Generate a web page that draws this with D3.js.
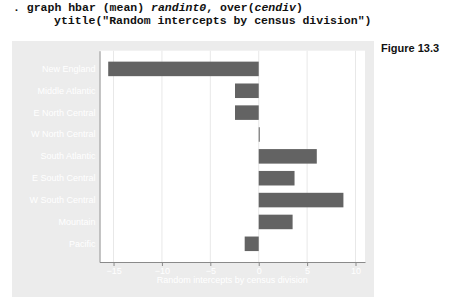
<!DOCTYPE html>
<html lang="en">
	<head>
		<meta charset="utf-8" />
		<title>Random intercepts by census division</title>
		<script type="text/javascript" src="https://cdn.jsdelivr.net/npm/d3@7"></script>
		<style type="text/css">
			body { margin: 0; background: #fff; }
			text { font-family: "Liberation Sans", Arial, sans-serif; }
			.cmd { font-family: "Liberation Mono", "Courier New", monospace; font-weight: bold; font-size: 11.5px; fill: #111; }
		</style>
	</head>
	<body>
		<script type="text/javascript">
			// data
			var divisions = ["New England", "Middle Atlantic", "E North Central", "W North Central",
				"South Atlantic", "E South Central", "W South Central", "Mountain", "Pacific"];
			var meanIntercepts = [-15.55, -2.45, -2.45, 0.08, 6.0, 3.7, 8.75, 3.5, -1.45];
			var tickValues = [-15, -10, -5, 0, 5, 10];

			var w = 468;
			var h = 306;
			var plot = { left: 99.5, right: 365, top: 50.7, bottom: 262 };

			var svg = d3.select("body")
				.append("svg")
				.attr("width", w)
				.attr("height", h);

			// command lines above the graph
			var cmd1 = svg.append("text").attr("class", "cmd").attr("x", 13).attr("y", 11);
			cmd1.append("tspan").text(". graph hbar (mean) ");
			cmd1.append("tspan").attr("font-style", "italic").text("randint0");
			cmd1.append("tspan").text(", over(");
			cmd1.append("tspan").attr("font-style", "italic").text("cendiv");
			cmd1.append("tspan").text(")");
			svg.append("text").attr("class", "cmd").attr("x", 54).attr("y", 24)
				.text("ytitle(\"Random intercepts by census division\")");

			svg.append("text")
				.attr("x", 381).attr("y", 52)
				.attr("font-weight", "bold")
				.attr("font-size", 11)
				.attr("fill", "#111")
				.text("Figure 13.3");

			// gray graph region
			svg.append("rect")
				.attr("x", 12).attr("y", 41)
				.attr("width", 362).attr("height", 256)
				.attr("fill", "#ececec");

			svg.append("rect")
				.attr("x", plot.left).attr("y", plot.top)
				.attr("width", plot.right - plot.left)
				.attr("height", plot.bottom - plot.top)
				.attr("fill", "#fff");

			var xScale = d3.scaleLinear()
				.domain([-16.45, 10.98])
				.range([plot.left, plot.right]);

			var yScale = d3.scaleBand()
				.domain(divisions)
				.range([plot.top, plot.bottom])
				.paddingInner(0.335)
				.paddingOuter(0.5);

			// grid lines
			svg.append("g")
				.selectAll("line")
				.data(tickValues)
				.enter()
				.append("line")
				.attr("x1", function(d) { return xScale(d); })
				.attr("x2", function(d) { return xScale(d); })
				.attr("y1", plot.top)
				.attr("y2", plot.bottom)
				.attr("stroke", "#e8e8e8")
				.attr("stroke-width", 1);

			// bars
			svg.append("g")
				.selectAll("rect")
				.data(meanIntercepts)
				.enter()
				.append("rect")
				.attr("x", function(d) { return xScale(Math.min(0, d)); })
				.attr("y", function(d, i) { return yScale(divisions[i]); })
				.attr("width", function(d) { return Math.max(1, Math.abs(xScale(d) - xScale(0))); })
				.attr("height", yScale.bandwidth())
				.attr("fill", "#636363");

			// category axis (left)
			var yAxis = d3.axisLeft(yScale).tickSize(0).tickPadding(4);
			var gy = svg.append("g")
				.attr("transform", "translate(" + plot.left + ",0)")
				.call(yAxis);
			gy.select(".domain").attr("stroke", "#8a8a8a");
			gy.selectAll("text")
				.attr("fill", "#fff")
				.attr("font-size", 9)
				.attr("font-family", "Liberation Sans, Arial, sans-serif");

			// value axis (bottom)
			var xAxis = d3.axisBottom(xScale)
				.tickValues(tickValues)
				.tickSize(4)
				.tickPadding(2)
				.tickSizeOuter(0);
			var gx = svg.append("g")
				.attr("transform", "translate(0," + plot.bottom + ")")
				.call(xAxis);
			gx.select(".domain").attr("stroke", "#8a8a8a");
			gx.selectAll(".tick line").attr("stroke", "#8a8a8a");
			gx.selectAll("text")
				.attr("fill", "#fff")
				.attr("font-size", 9)
				.attr("font-family", "Liberation Sans, Arial, sans-serif");

			svg.append("text")
				.attr("x", (plot.left + plot.right) / 2)
				.attr("y", 283)
				.attr("text-anchor", "middle")
				.attr("font-size", 9)
				.attr("fill", "#fff")
				.text("Random intercepts by census division");
		</script>
	</body>
</html>
